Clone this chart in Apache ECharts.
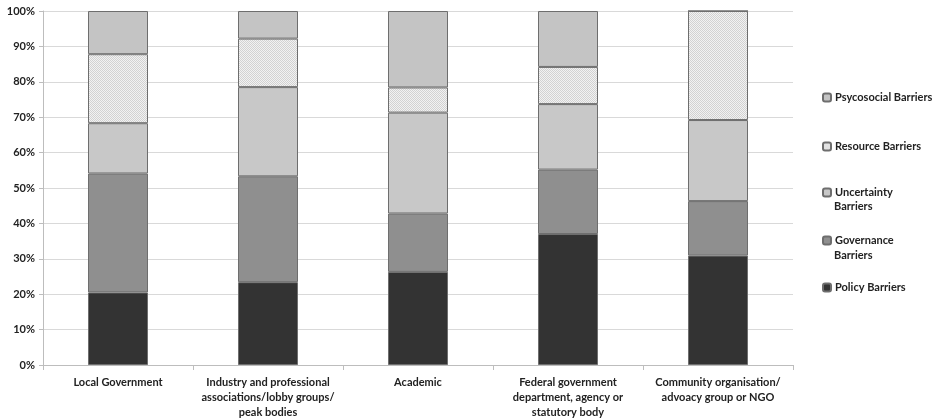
<!DOCTYPE html>
<html><head><meta charset="utf-8">
<script src="https://cdn.jsdelivr.net/npm/echarts@6/dist/echarts.min.js"></script>
<style>html,body{margin:0;padding:0;background:#fff}#c{width:937px;height:420px}</style>
</head><body><div id="c"></div>
<script>
const categories = ['Local Government','Industry and professional\nassociations/lobby groups/\npeak bodies','Academic','Federal government\ndepartment, agency or\nstatutory body','Community organisation/\nadvoacy group or NGO'];
const policy = [20.5, 23.4, 26.3, 37.0, 30.9];
const governance = [33.6, 29.9, 16.5, 18.2, 15.4];
const uncertainty = [14.2, 25.2, 28.5, 18.5, 22.9];
const resource = [19.5, 13.7, 7.1, 10.5, 30.8];
const psycosocial = [12.2, 7.8, 21.6, 15.8, 0];
const yTicks = [0,10,20,30,40,50,60,70,80,90,100];

const pc = document.createElement('canvas'); pc.width = 2; pc.height = 2;
const g = pc.getContext('2d');
g.fillStyle = '#f2f2f2'; g.fillRect(0,0,2,2);
g.fillStyle = '#d2d2d2'; g.fillRect(0,0,1,1); g.fillRect(1,1,1,1);
const pattern = {image: pc, repeat: 'repeat'};

const FONT = 'Lato';
const TXT = {fontFamily:FONT, fontWeight:'bold', fontSize:11, fill:'#222'};
const chart = echarts.init(document.getElementById('c'), null, {renderer:'canvas'});
const mk = (name, data, color) => ({
  name, type:'bar', stack:'s', data, barWidth:'40%',
  itemStyle:{color, borderColor:'#6e6e6e', borderWidth:1},
  emphasis:{disabled:true}
});
const legendItem = (name, top) => ({
  data:[name], left:822, top, orient:'vertical', itemWidth:8, itemHeight:8, itemGap:0,
  padding:0, selectedMode:false,
  formatter: n => n.split('\n')[0],
  textStyle:{fontFamily:FONT, fontWeight:'bold', fontSize:11, color:'#222', padding:[0,0,0,-1]}
});
chart.setOption({
  animation:false,
  grid:{left:43, right:144, top:11, bottom:52},
  legend:[
    legendItem('Psycosocial Barriers', 92),
    legendItem('Resource Barriers', 141),
    legendItem('Uncertainty\nBarriers', 187),
    legendItem('Governance\nBarriers', 235),
    legendItem('Policy Barriers', 282)
  ],
  graphic:[
    {type:'text', left:834, top:201, style:Object.assign({text:'Barriers'}, TXT)},
    {type:'text', left:834, top:250, style:Object.assign({text:'Barriers'}, TXT)}
  ],
  xAxis:{type:'category', data:categories,
    axisLine:{lineStyle:{color:'#bdbdbd'}},
    axisTick:{show:true, length:5, lineStyle:{color:'#bdbdbd'}},
    axisLabel:{fontFamily:FONT, fontWeight:'bold', fontSize:11, color:'#222', lineHeight:15, margin:10, interval:0}
  },
  yAxis:{type:'value', min:0, max:100, interval:10,
    axisLine:{show:true, lineStyle:{color:'#bdbdbd'}},
    axisTick:{show:true, length:4, lineStyle:{color:'#bdbdbd'}},
    splitLine:{lineStyle:{color:'#d9d9d9'}},
    axisLabel:{fontFamily:FONT, fontWeight:'bold', fontSize:11, color:'#222', margin:8,
      formatter: v => yTicks.includes(v) ? v + '%' : ''}
  },
  series:[
    mk('Policy Barriers', policy, '#333333'),
    mk('Governance\nBarriers', governance, '#8f8f8f'),
    mk('Uncertainty\nBarriers', uncertainty, '#c8c8c8'),
    mk('Resource Barriers', resource, pattern),
    mk('Psycosocial Barriers', psycosocial, '#c4c4c4')
  ]
});
</script></body></html>
